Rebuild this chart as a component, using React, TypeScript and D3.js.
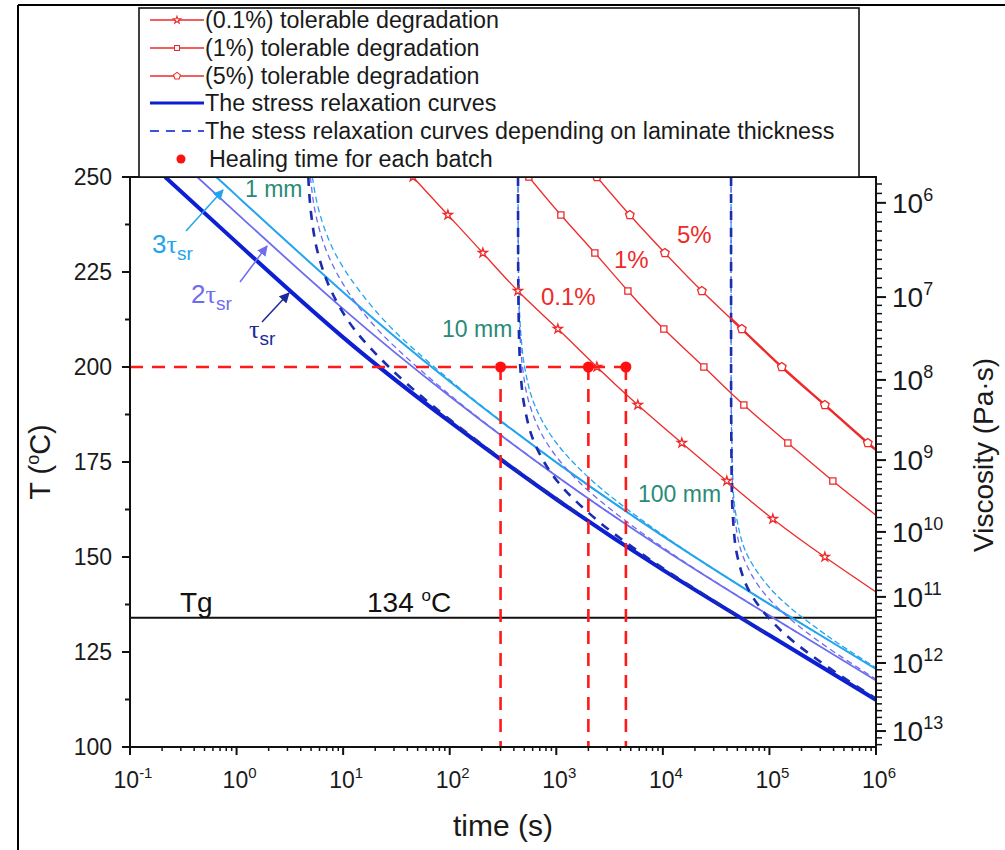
import React from "react";
import * as d3 from "d3";

// ---------- data ----------
// solid stress-relaxation curves: log10(time [s]) and temperature [°C]
const tauSrLog = [-0.67, 0, 1, 2, 3, 4, 5, 6];
const tauSrT = [250, 232.8, 207.8, 185.6, 165.2, 146.6, 129.4, 112.4];
const tau2Log = [-0.369, 0, 1, 2, 3, 4, 5, 6];
const tau2T = [250, 240.5, 215.3, 192.3, 171.3, 152.2, 134.6, 117.5];
const tau3Log = [-0.193, 0, 1, 2, 3, 4, 5, 6];
const tau3T = [250, 245.1, 219.7, 196.2, 174.9, 155.5, 137.6, 120.5];

// tolerable degradation curves
const deg01T = [250, 240, 230, 220, 210, 200, 190, 180, 170, 160, 150, 140.8];
const deg01Log = [1.655, 1.983, 2.311, 2.64, 3.015, 3.381, 3.765, 4.178, 4.6, 5.032, 5.52, 6.0];
const deg1T = [250, 240, 230, 220, 210, 200, 190, 180, 170, 161];
const deg1Log = [2.743, 3.043, 3.362, 3.672, 4.009, 4.385, 4.76, 5.173, 5.595, 6.0];
const deg5T = [250, 240, 230, 220, 210, 200, 190, 180, 178.3];
const deg5Log = [3.381, 3.69, 4.019, 4.366, 4.741, 5.116, 5.52, 5.923, 6.0];

// thickness-dependent curves (dashed)
const mm1T = [250, 240, 230, 220, 210, 200, 190, 180, 170, 160];
const mm1DarkLog = [0.673, 0.701, 0.763, 0.889, 1.103, 1.43, 1.832, 2.285, 2.769, 3.281];
const mm1MidLog = [0.693, 0.744, 0.851, 1.041, 1.319, 1.694, 2.118, 2.581, 3.068, 3.581];
const mm1LightLog = [0.711, 0.784, 0.923, 1.154, 1.462, 1.856, 2.289, 2.756, 3.243, 3.757];

const mm10DarkT = [250, 230, 210, 200, 190, 180, 170, 160, 150, 140, 130];
const mm10DarkLog = [2.641, 2.642, 2.649, 2.662, 2.699, 2.796, 3.008, 3.37, 3.845, 4.392, 4.967];
const mm10T = [250, 230, 220, 210, 200, 190, 180, 170, 160, 150, 140, 130];
const mm10MidLog = [2.641, 2.643, 2.647, 2.657, 2.683, 2.751, 2.911, 3.204, 3.628, 4.132, 4.689, 5.267];
const mm10LightLog = [2.641, 2.644, 2.65, 2.664, 2.703, 2.797, 3.001, 3.339, 3.789, 4.304, 4.864, 5.443];

const mm100DarkT = [250, 200, 170, 160, 150, 140, 130, 120, 113];
const mm100DarkLog = [4.64, 4.6402, 4.6457, 4.6585, 4.7008, 4.8316, 5.1332, 5.603, 5.985];
const mm100MidT = [250, 200, 170, 160, 150, 140, 130, 120, 117.85];
const mm100MidLog = [4.64, 4.6404, 4.6514, 4.6763, 4.7541, 4.9641, 5.3582, 5.8798, 6.0];
const mm100LightT = [250, 200, 170, 160, 150, 140, 130, 120.84];
const mm100LightLog = [4.64, 4.6407, 4.657, 4.6934, 4.8016, 5.0655, 5.5057, 6.0];

const healingTimes = [300, 2000, 4500];
const healingT = 200;
const tgValue = 134;

// axes
const tempTicks = [100, 125, 150, 175, 200, 225, 250];
const timeExps = [-1, 0, 1, 2, 3, 4, 5, 6];
const viscExps = [6, 7, 8, 9, 10, 11, 12, 13];
const viscTemps = [243.2, 218.4, 196.6, 175.5, 156.6, 139.5, 122.1, 104.2];

const legendLabels = [
  "(0.1%) tolerable degradation",
  "(1%) tolerable degradation",
  "(5%) tolerable degradation",
  "The stress relaxation curves",
  "The stess relaxation curves depending on laminate thickness",
  "Healing time for each batch",
];

// ---------- chart ----------
const L = 130, R = 876, T0 = 177, B = 747;
const FONT = "Liberation Sans, Arial, sans-serif";

const x = d3.scaleLog().domain([1e-1, 1e6]).range([L, R]);
const y = d3.scaleLinear().domain([100, 250]).range([B, T0]);
const visc = d3.scaleLinear().domain(viscExps).range(viscTemps);

const zip = (logs: number[], temps: number[]) =>
  logs.map((l, i) => [l, temps[i]] as [number, number]);

const line = d3
  .line<[number, number]>()
  .x((d) => x(Math.pow(10, d[0])))
  .y((d) => y(d[1]))
  .curve(d3.curveMonotoneY);

const smooth = d3
  .line<[number, number]>()
  .x((d) => x(Math.pow(10, d[0])))
  .y((d) => y(d[1]))
  .curve(d3.curveNatural);

const pentagon = {
  draw(ctx: any, size: number) {
    const r = Math.sqrt(size) / 1.5;
    for (let i = 0; i < 5; i++) {
      const a = -Math.PI / 2 + (i * 2 * Math.PI) / 5;
      const px = r * Math.cos(a), py = r * Math.sin(a);
      if (i === 0) ctx.moveTo(px, py);
      else ctx.lineTo(px, py);
    }
    ctx.closePath();
  },
};
const starPath = d3.symbol().type(d3.symbolStar).size(26)() as string;
const squarePath = d3.symbol().type(d3.symbolSquare).size(38)() as string;
const pentPath = d3.symbol().type(pentagon as any).size(46)() as string;

const RED = "#ee2a2a";
const DARK = "#0c1fd4";
const MID = "#6e6cf0";
const LIGHT = "#22a4ee";
const DDASH = "#1a2cb0";
const TEAL = "#2a8a78";

function Sup({ base, sup, x: tx, y: ty, size, supSize, anchor = "start", fill = "#1a1a1a" }: any) {
  return (
    <text x={tx} y={ty} fontSize={size} textAnchor={anchor} fill={fill} fontFamily={FONT}>
      {base}
      <tspan fontSize={supSize} dy={-size * 0.42}>{sup}</tspan>
    </text>
  );
}

export default function App() {
  const degCurves = [
    { logs: deg01Log, temps: deg01T, path: starPath },
    { logs: deg1Log, temps: deg1T, path: squarePath },
    { logs: deg5Log, temps: deg5T, path: pentPath },
  ];

  const dashed = [
    { d: zip(mm1LightLog, mm1T), c: LIGHT, w: 1.3, da: "6,4" },
    { d: zip(mm1MidLog, mm1T), c: MID, w: 1.3, da: "6,4" },
    { d: zip(mm1DarkLog, mm1T), c: DDASH, w: 2.6, da: "9,8" },
    { d: zip(mm10LightLog, mm10T), c: LIGHT, w: 1.3, da: "6,3" },
    { d: zip(mm10MidLog, mm10T), c: MID, w: 1.3, da: "6,4" },
    { d: zip(mm10DarkLog, mm10DarkT), c: DDASH, w: 2.6, da: "9,8" },
    { d: zip(mm100LightLog, mm100LightT), c: LIGHT, w: 1.3, da: "6,3" },
    { d: zip(mm100MidLog, mm100MidT), c: MID, w: 1.3, da: "6,4" },
    { d: zip(mm100DarkLog, mm100DarkT), c: DDASH, w: 2.6, da: "9,8" },
  ];

  const minorTemps = d3.range(100, 251, 12.5).filter((t) => !tempTicks.includes(t));
  const minorTimes: number[] = [];
  for (let e = -1; e < 6; e++) for (let k = 2; k <= 9; k++) minorTimes.push(k * Math.pow(10, e));
  const viscMinor: number[] = [];
  for (let e = 5; e <= 13; e++)
    for (let k = 1; k <= 9; k++) {
      const t = visc(e + k / 10);
      if (t <= 250 && t >= 100) viscMinor.push(t);
    }

  const lastHeal = healingTimes[healingTimes.length - 1];
  const thickStart = mm100DarkLog[0];

  return (
    <svg
      width={1005}
      height={850}
      style={{ position: "absolute", left: 0, top: 0, background: "#fff" }}
      fontFamily={FONT}
    >
      <defs>
        <clipPath id="plot">
          <rect x={L} y={T0} width={R - L} height={B - T0} />
        </clipPath>
        <clipPath id="right5">
          <rect x={x(Math.pow(10, thickStart))} y={T0} width={R - x(Math.pow(10, thickStart))} height={B - T0} />
        </clipPath>
        {[
          ["arL", LIGHT],
          ["arM", MID],
          ["arD", "#1a2a9a"],
        ].map(([id, c]) => (
          <marker key={id} id={id} viewBox="0 0 10 10" refX="9" refY="5" markerWidth="7" markerHeight="7" orient="auto">
            <path d="M0,0 L10,5 L0,10 Z" fill={c} />
          </marker>
        ))}
      </defs>

      {/* outer frame */}
      <line x1={18} y1={5} x2={18} y2={850} stroke="#000" strokeWidth={2} />
      <line x1={18} y1={5} x2={1005} y2={5} stroke="#000" strokeWidth={2} />

      <g clipPath="url(#plot)">
        {/* Tg line */}
        <line x1={L} x2={R} y1={y(tgValue)} y2={y(tgValue)} stroke="#111" strokeWidth={2} />

        {/* solid relaxation curves */}
        <path d={smooth(zip(tau3Log, tau3T)) as string} fill="none" stroke={LIGHT} strokeWidth={2} />
        <path d={smooth(zip(tau2Log, tau2T)) as string} fill="none" stroke={MID} strokeWidth={1.8} />
        <path d={smooth(zip(tauSrLog, tauSrT)) as string} fill="none" stroke={DARK} strokeWidth={4} />

        {/* thickness-dependent dashed curves */}
        {dashed.map((c, i) => (
          <path key={i} d={line(c.d) as string} fill="none" stroke={c.c} strokeWidth={c.w} strokeDasharray={c.da} />
        ))}

        {/* degradation curves */}
        {degCurves.map((c, i) => (
          <g key={i}>
            <path d={smooth(zip(c.logs, c.temps)) as string} fill="none" stroke={RED} strokeWidth={1.3} />
            {i === 2 && (
              <path
                d={smooth(zip(c.logs, c.temps)) as string}
                fill="none"
                stroke={RED}
                strokeWidth={2.4}
                clipPath="url(#right5)"
              />
            )}
            {c.temps.slice(0, c.temps.length - 1).map((t, j) => (
              <path
                key={j}
                d={c.path}
                transform={`translate(${x(Math.pow(10, c.logs[j]))},${y(t)})`}
                fill="#fff"
                stroke={RED}
                strokeWidth={1.3}
              />
            ))}
          </g>
        ))}

        {/* healing time */}
        <line
          x1={L}
          x2={x(lastHeal)}
          y1={y(healingT)}
          y2={y(healingT)}
          stroke="#ff1a1a"
          strokeWidth={2.6}
          strokeDasharray="13,9"
        />
        {healingTimes.map((t, i) => (
          <g key={i}>
            <line
              x1={x(t)}
              x2={x(t)}
              y1={y(healingT)}
              y2={B}
              stroke="#ff1a1a"
              strokeWidth={2.6}
              strokeDasharray="13,9"
            />
            <circle cx={x(t)} cy={y(healingT)} r={5.5} fill="#ff1010" />
          </g>
        ))}
      </g>

      {/* annotations */}
      <text x={245} y={197} fontSize={23} fill={TEAL}>1 mm</text>
      <text x={442} y={337} fontSize={23} fill={TEAL}>10 mm</text>
      <text x={638} y={502} fontSize={23} fill={TEAL}>100 mm</text>
      <text x={677} y={243} fontSize={24} fill={RED}>5%</text>
      <text x={614} y={268} fontSize={24} fill={RED}>1%</text>
      <text x={541} y={305} fontSize={24} fill={RED}>0.1%</text>
      <text x={180} y={612} fontSize={28} fill="#111">Tg</text>
      <text x={367} y={612} fontSize={28} fill="#111">
        134 <tspan fontSize={17} dy={-11}>o</tspan>
        <tspan dy={11}>C</tspan>
      </text>

      {/* tau labels */}
      <line x1={186} y1={231} x2={223} y2={190} stroke={LIGHT} strokeWidth={1.5} markerEnd="url(#arL)" />
      <text x={152} y={253} fontSize={26} fill={LIGHT}>
        3<tspan fontFamily="Liberation Serif, serif">τ</tspan>
        <tspan fontSize={19} dy={7}>sr</tspan>
      </text>
      <line x1={240} y1={282} x2={267} y2={246} stroke={MID} strokeWidth={1.5} markerEnd="url(#arM)" />
      <text x={191} y={303} fontSize={26} fill={MID}>
        2<tspan fontFamily="Liberation Serif, serif">τ</tspan>
        <tspan fontSize={19} dy={7}>sr</tspan>
      </text>
      <line x1={262} y1={322} x2={289} y2={293} stroke="#1a2a9a" strokeWidth={1.5} markerEnd="url(#arD)" />
      <text x={249} y={338} fontSize={26} fill="#1a2a9a">
        <tspan fontFamily="Liberation Serif, serif">τ</tspan>
        <tspan fontSize={19} dy={7}>sr</tspan>
      </text>

      {/* frame / axes */}
      <rect x={L} y={T0} width={R - L} height={B - T0} fill="none" stroke="#111" strokeWidth={2} />

      {/* left axis */}
      {tempTicks.map((t) => (
        <g key={t}>
          <line x1={L - 8} x2={L} y1={y(t)} y2={y(t)} stroke="#111" strokeWidth={2} />
          <text x={112} y={y(t)} dy="0.35em" fontSize={23} textAnchor="end" fill="#1a1a1a">{t}</text>
        </g>
      ))}
      {minorTemps.map((t) => (
        <line key={t} x1={L - 5} x2={L} y1={y(t)} y2={y(t)} stroke="#111" strokeWidth={2} />
      ))}
      <text transform={`translate(50,462) rotate(-90)`} fontSize={29} textAnchor="middle" fill="#1a1a1a">
        T (<tspan fontSize={18} dy={-11}>o</tspan>
        <tspan dy={11}>C)</tspan>
      </text>

      {/* bottom axis */}
      {timeExps.map((e) => (
        <g key={e}>
          <line x1={x(Math.pow(10, e))} x2={x(Math.pow(10, e))} y1={B} y2={B + 8} stroke="#111" strokeWidth={2} />
          <Sup base="10" sup={String(e)} x={x(Math.pow(10, e)) + 3} y={788} size={23} supSize={15} anchor="middle" />
        </g>
      ))}
      {minorTimes.map((t, i) => (
        <line key={i} x1={x(t)} x2={x(t)} y1={B} y2={B + 4} stroke="#111" strokeWidth={1.5} />
      ))}
      <text x={503} y={836} fontSize={30} textAnchor="middle" fill="#1a1a1a">time (s)</text>

      {/* right axis */}
      {viscExps.map((e) => (
        <g key={e}>
          <line x1={R} x2={R + 10} y1={y(visc(e))} y2={y(visc(e))} stroke="#111" strokeWidth={2} />
          <Sup base="10" sup={String(e)} x={892} y={y(visc(e)) + 10} size={28} supSize={18} />
        </g>
      ))}
      {viscMinor.map((t, i) => (
        <line key={i} x1={R} x2={R + 6} y1={y(t)} y2={y(t)} stroke="#111" strokeWidth={1.5} />
      ))}
      <text transform={`translate(993,455) rotate(-90)`} fontSize={28} textAnchor="middle" fill="#1a1a1a">
        Viscosity (Pa·s)
      </text>

      {/* legend */}
      <rect x={139} y={8} width={720} height={169} fill="#fff" stroke="#111" strokeWidth={1.6} />
      {legendLabels.map((lab, i) => {
        const cy = [20, 48, 76, 103, 131, 159][i];
        return (
          <g key={i}>
            {i < 3 && (
              <g>
                <line x1={150} x2={204} y1={cy} y2={cy} stroke={RED} strokeWidth={1.5} />
                <path
                  d={[starPath, squarePath, pentPath][i]}
                  transform={`translate(177,${cy}) scale(0.8)`}
                  fill="#fff"
                  stroke={RED}
                  strokeWidth={1.3}
                />
              </g>
            )}
            {i === 3 && <line x1={150} x2={204} y1={cy} y2={cy} stroke={DARK} strokeWidth={3} />}
            {i === 4 && (
              <line x1={150} x2={204} y1={cy} y2={cy} stroke="#3a55d8" strokeWidth={2} strokeDasharray="9,7" />
            )}
            {i === 5 && <circle cx={181} cy={cy} r={4.5} fill="#ff1010" />}
            <text x={i === 5 ? 209 : 205} y={cy} dy="0.35em" fontSize={23.3} fill="#1a1a1a">{lab}</text>
          </g>
        );
      })}
    </svg>
  );
}
